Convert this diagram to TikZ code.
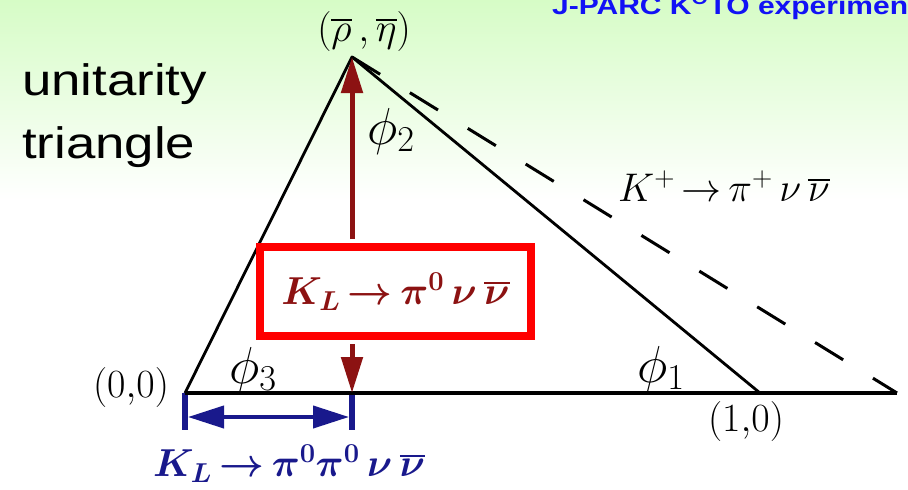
\RequirePackage{fix-cm}
\documentclass[tikz,border=0pt]{standalone}
\usepackage{fontspec}
\usepackage{graphicx}
\newfontfamily\arialfont{Liberation Sans}
\usetikzlibrary{arrows.meta}
\definecolor{bggreen}{RGB}{214,252,198}
\definecolor{klred}{RGB}{140,18,18}
\definecolor{boxred}{RGB}{255,0,0}
\definecolor{navyblue}{RGB}{25,25,140}
\definecolor{titleblue}{RGB}{18,18,245}
\newcommand\widen[1]{\scalebox{1.2}[1]{#1}}
\newcommand\barred[1]{\vbox{\hrule height 1.8pt\kern 3pt\hbox{$#1$}}}

\begin{document}
\begin{tikzpicture}[x=1pt,y=-1pt,
    lbl/.style={inner sep=0pt,font=\fontsize{40}{44}\selectfont},
    ang/.style={inner sep=0pt,font=\fontsize{52}{56}\selectfont},
    side/.style={line width=2.8pt},
    redarr/.style={klred,line width=5pt,-{Triangle[length=36pt,width=21pt]}},
    bluearr/.style={navyblue,line width=4pt,{Triangle[length=36pt,width=22pt]}-{Triangle[length=36pt,width=22pt]}}]
  \shade[top color=bggreen,bottom color=white] (0,0) rectangle (908,200);
  \fill[white] (0,200) rectangle (908,490);
  \useasboundingbox (0,0) rectangle (908,490);
  % corners of the triangle
  \coordinate (O) at (185,393);
  \coordinate (A) at (352,57);
  \coordinate (B) at (760,393);
  \coordinate (E) at (897,393);
  \coordinate (foot) at (352,393);
  \coordinate (lb) at (185,430);
  \coordinate (rb) at (352,430);
  \draw[navyblue,line width=6pt] (O) -- (lb);
  \draw[navyblue,line width=6pt] (foot) -- (rb);
  \draw[bluearr,shorten <=3pt,shorten >=3pt] ([yshift=13pt]lb) -- ([yshift=13pt]rb);
  \draw[line width=4.5pt] (O) -- (E);
  \draw[side,line join=round] (O) -- (A) -- (B);
  \draw[line width=3pt,dash pattern=on 33pt off 35pt] (A) -- (E);
  \node[draw=boxred,line width=8pt,fill=white,minimum width=271pt,minimum height=89pt,
    text=klred,font=\fontsize{39}{42}\selectfont\boldmath] (kl) at (395.5,291.5) {$K_L\,{\to}\,\pi^0\,\nu\,\barred{\nu}$};
  \draw[redarr,shorten <=4pt] (A |- kl.north) -- (A);
  \draw[redarr,shorten <=4pt] (A |- kl.south) -- (foot);
  % labels
  \node[lbl] (rhoeta) at (364,31) {$(\barred{\rho}\,,\barred{\eta})$};
  \node[lbl] (orig) at (131,387) {$(0{,}0)$};
  \node[lbl] (unit) at (746,421) {$(1{,}0)$};
  \node[ang] (phitwo) at (391,131) {$\phi_2$};
  \node[ang] (phithree) at (253,370) {$\phi_3$};
  \node[ang] (phione) at (661,369) {$\phi_1$};
  \node[lbl] (kplus) at (724,186) {$K^+\,{\to}\,\pi^+\,\nu\,\barred{\nu}$};
  \node[lbl,text=navyblue,font=\fontsize{39}{42}\selectfont\boldmath] (kpp) at (289,464) {$K_L\,{\to}\,\pi^0\pi^0\,\nu\,\barred{\nu}$};
  \node[anchor=north west,align=left,inner sep=0pt,font=\arialfont\fontsize{44}{63}\selectfont] (name) at (22,63) {\widen{unitarity}\\\widen{triangle}};
  \node[anchor=base west,inner sep=0pt,text=titleblue,font=\arialfont\bfseries\fontsize{25}{29}\selectfont] (koto) at (552,14) {\widen{J-PARC K\textsuperscript{O}TO experiment}};
\end{tikzpicture}
\end{document}
